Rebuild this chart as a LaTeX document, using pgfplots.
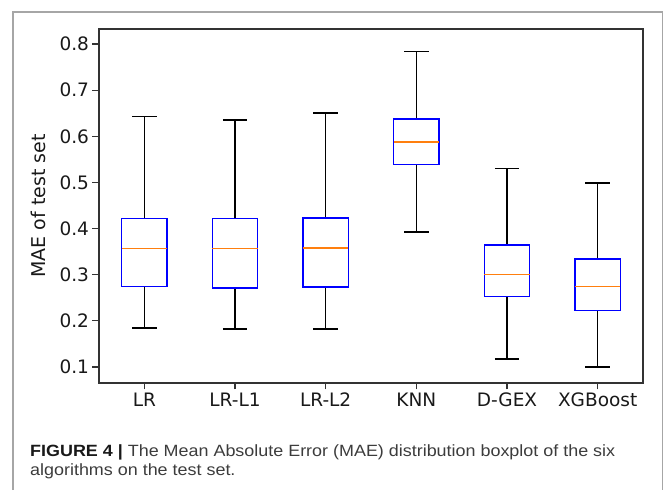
\documentclass[border=0pt]{standalone}
\usepackage{fontspec}
\setmainfont{DejaVu Sans}
\newfontfamily\capfont[FakeStretch=1.1]{Liberation Sans}
\usepackage{pgfplots}
\usepgfplotslibrary{statistics}
\pgfplotsset{compat=1.18}
\definecolor{mplblue}{RGB}{0,0,255}
\definecolor{mplorange}{RGB}{255,127,14}
\definecolor{capgray}{RGB}{60,60,60}
\begin{document}
\begin{tikzpicture}
\useasboundingbox (0pt,0pt) rectangle (664pt,490pt);
\draw[black!35, line width=1.2pt] (13pt,0pt) -- (13pt,478pt) -- (662.5pt,478pt) -- (662.5pt,0pt);
\begin{axis}[
  at={(99pt,107pt)}, anchor=south west,
  scale only axis, width=544pt, height=354pt,
  xmin=0.5, xmax=6.5, ymin=0.0653, ymax=0.8326,
  axis line style={black!80, line width=1.2pt},
  tick style={black!80, line width=1.2pt},
  major tick length=6.5pt,
  tick align=outside,
  xtick pos=left, ytick pos=left,
  xtick={1,2,3,4,5,6},
  xticklabels={LR,LR-L1,LR-L2,KNN,D-GEX,XGBoost},
  ytick={0.1,0.2,0.3,0.4,0.5,0.6,0.7,0.8},
  yticklabel style={/pgf/number format/fixed, /pgf/number format/precision=1, /pgf/number format/fixed zerofill},
  /pgf/number format/assume math mode=true,
  tick label style={font=\fontsize{18.5}{22}\selectfont, text=black!90},
  ylabel={MAE of test set},
  ylabel style={at={(axis description cs:-0.112,0.5)}, anchor=center, rotate=0, font=\fontsize{19}{23}\selectfont, text=black!90},
  boxplot/draw direction=y,
  boxplot/every box/.style={draw=mplblue, line width=1.5pt},
  boxplot/every whisker/.style={draw=black, line width=1.5pt},
  boxplot/every median/.style={draw=mplorange, line width=1.5pt},
]
\addplot[black, boxplot prepared={draw position=1, lower whisker=0.184, lower quartile=0.275, median=0.357, upper quartile=0.422, upper whisker=0.643, box extend=0.5, whisker extend=0.27}] coordinates {};
\addplot[black, boxplot prepared={draw position=2, lower whisker=0.182, lower quartile=0.271, median=0.357, upper quartile=0.422, upper whisker=0.635, box extend=0.5, whisker extend=0.27}] coordinates {};
\addplot[black, boxplot prepared={draw position=3, lower whisker=0.182, lower quartile=0.273, median=0.358, upper quartile=0.423, upper whisker=0.650, box extend=0.5, whisker extend=0.27}] coordinates {};
\addplot[black, boxplot prepared={draw position=4, lower whisker=0.393, lower quartile=0.539, median=0.588, upper quartile=0.637, upper whisker=0.784, box extend=0.5, whisker extend=0.27}] coordinates {};
\addplot[black, boxplot prepared={draw position=5, lower whisker=0.117, lower quartile=0.253, median=0.301, upper quartile=0.364, upper whisker=0.530, box extend=0.5, whisker extend=0.27}] coordinates {};
\addplot[black, boxplot prepared={draw position=6, lower whisker=0.100, lower quartile=0.222, median=0.274, upper quartile=0.334, upper whisker=0.499, box extend=0.5, whisker extend=0.27}] coordinates {};
\end{axis}
\node[anchor=base west, inner sep=0pt, font=\capfont\fontsize{16.3}{20}\selectfont, text=capgray] at (30pt,33pt) {{\bfseries\color{black!90}FIGURE 4 |} The Mean Absolute Error (MAE) distribution boxplot of the six};
\node[anchor=base west, inner sep=0pt, font=\capfont\fontsize{16.3}{20}\selectfont, text=capgray] at (30pt,14pt) {algorithms on the test set.};
\end{tikzpicture}
\end{document}
